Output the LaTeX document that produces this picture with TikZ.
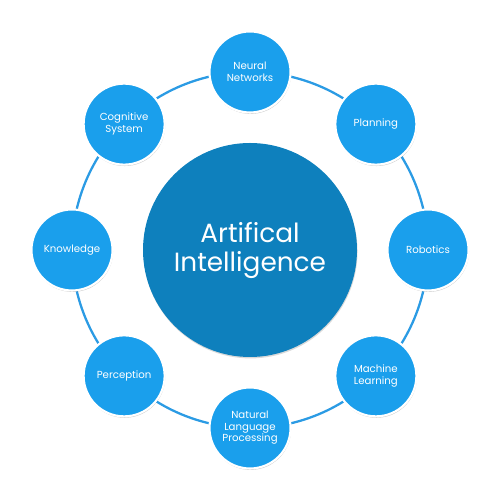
\documentclass[tikz,border=0pt]{standalone}
\usepackage{fontspec}
\setmainfont{Poppins}
\usetikzlibrary{shadows,calc}
\definecolor{smallblue}{HTML}{1A9FEC}
\definecolor{bigblue}{HTML}{0E80BD}
\definecolor{ringblue}{HTML}{2B9BE4}
\tikzset{
  topic/.style={circle, fill=smallblue, draw=white, line width=1.2pt, minimum size=1.62cm, inner sep=0pt,
    align=center, text=white, font=\fontsize{5.8}{6.6}\selectfont,
    drop shadow={shadow xshift=0.3pt, shadow yshift=-0.8pt, opacity=0.35, fill=black!60}},
  core/.style={circle, fill=bigblue, minimum size=4.28cm, inner sep=0pt, align=center, text=white,
    font=\fontsize{15}{16.5}\selectfont,
    drop shadow={shadow xshift=0.3pt, shadow yshift=-0.8pt, opacity=0.25, fill=black!60}},
  ring/.style={draw=ringblue, line width=1.3pt}
}
\begin{document}
\begin{tikzpicture}
\useasboundingbox (0,0) rectangle (10,10);
\coordinate (c) at (5,5);
\draw[ring] (c) circle (3.56);
\node[core] (ai) at (c) {Artifical\\Intelligence};
\node[topic] (nn) at ($(c)+(90:3.56)$) {Neural\\Networks};
\node[topic] (pl) at ($(c)+(45:3.56)$) {Planning};
\node[topic] (ro) at ($(c)+(0:3.56)$) {Robotics};
\node[topic] (ml) at ($(c)+(-45:3.56)$) {Machine\\Learning};
\node[topic] (nlp) at ($(c)+(-90:3.56)$) {Natural\\Language\\Processing};
\node[topic] (pe) at ($(c)+(-135:3.56)$) {Perception};
\node[topic] (kn) at ($(c)+(180:3.56)$) {Knowledge};
\node[topic] (cs) at ($(c)+(135:3.56)$) {Cognitive\\System};
\end{tikzpicture}
\end{document}
